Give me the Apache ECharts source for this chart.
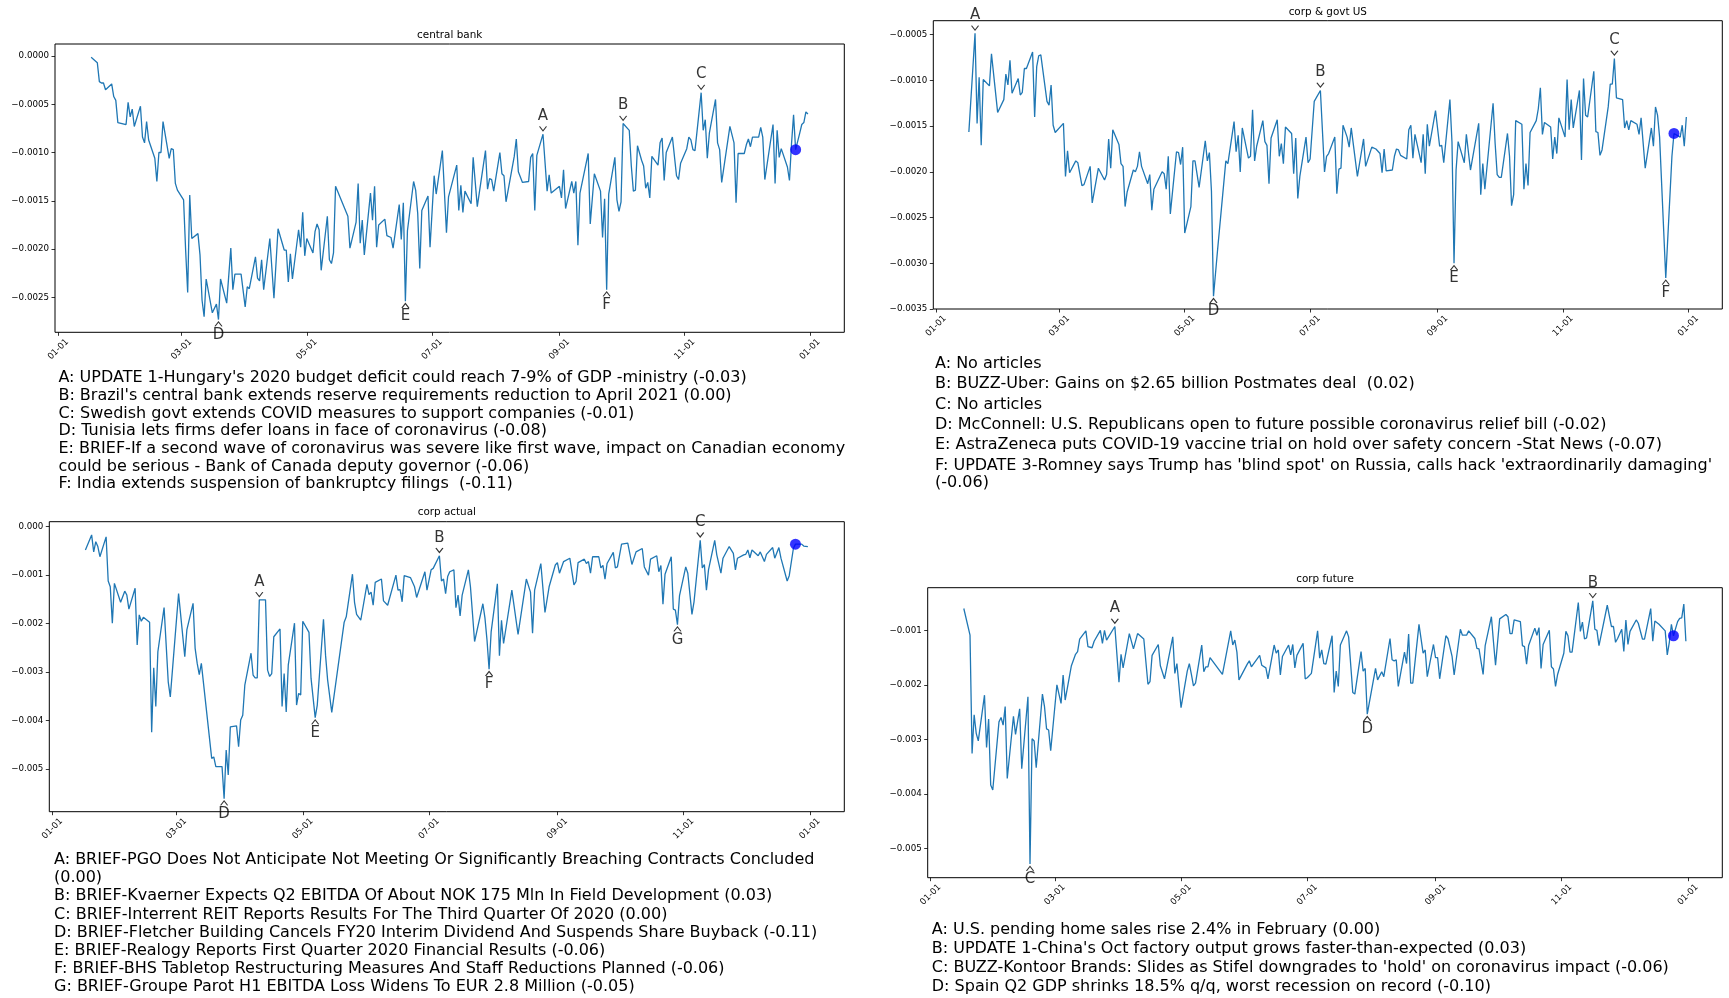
<!DOCTYPE html>
<html>
<head>
<meta charset="utf-8">
<title>Sentiment by sector, 2020</title>
<script src="https://cdn.jsdelivr.net/npm/echarts@6/dist/echarts.min.js"></script>
<style>
  html, body { margin: 0; padding: 0; background: #fff; }
  #chart { width: 1729px; height: 998px; }
</style>
</head>
<body>
<div id="chart"></div>
<script>
// ---- shared x ticks (day of year 2020) ----
const monthTicks = [0, 60, 121, 182, 244, 305, 366];
const monthTickLabels = ['01-01', '03-01', '05-01', '07-01', '09-01', '11-01', '01-01'];

// ---- central bank ----
const cbDays = [16,19,20,21,22,23,26,27,28,29,33,34,35,36,37,40,41,42,43,44,47,48,49,50,51,54,55,56,57,58,61,62,63,64,65,68,69,70,71,72,75,77,78,79,82,84,85,86,89,91,92,93,96,97,98,99,100,103,105,107,110,111,112,113,114,117,118,119,120,121,124,125,126,127,128,131,132,133,134,135,141,142,145,146,147,148,149,152,153,154,155,156,159,160,162,163,166,167,168,169,170,173,174,175,176,177,180,181,183,184,187,189,190,194,195,196,197,198,201,202,204,208,209,210,211,212,215,216,217,218,222,223,224,226,229,230,231,232,233,236,238,239,240,244,245,246,247,250,251,252,253,254,258,259,261,264,265,266,267,268,271,272,273,274,275,278,279,280,281,282,284,285,286,287,288,289,292,293,294,295,296,299,301,302,303,306,307,308,309,310,313,314,315,316,317,320,321,322,323,327,329,330,331,334,335,336,337,338,341,342,343,344,348,349,350,351,352,355,356,357,358,359,361,362,363,364,365];
const cbValues = [-0.000014,-0.000069,-0.000266,-0.00028,-0.00028,-0.00035,-0.00029,-0.00042,-0.00046,-0.00069,-0.00071,-0.00048,-0.00063,-0.00055,-0.00073,-0.00052,-0.00084,-0.0009,-0.00068,-0.00087,-0.00106,-0.0013,-0.001,-0.001,-0.00068,-0.00106,-0.00096,-0.00097,-0.00132,-0.00139,-0.00149,-0.00201,-0.00245,-0.00144,-0.00189,-0.00184,-0.00206,-0.00253,-0.0027,-0.00231,-0.00266,-0.00257,-0.00273,-0.00231,-0.00256,-0.00199,-0.00242,-0.00226,-0.00226,-0.0026,-0.00239,-0.00241,-0.00208,-0.0023,-0.00233,-0.00211,-0.00242,-0.00189,-0.00251,-0.00179,-0.00201,-0.00201,-0.00234,-0.00205,-0.00231,-0.0018,-0.00198,-0.00162,-0.00207,-0.00189,-0.00204,-0.00182,-0.00174,-0.0018,-0.00222,-0.00166,-0.00211,-0.00215,-0.00204,-0.00135,-0.00166,-0.00199,-0.00172,-0.00132,-0.00194,-0.0017,-0.00206,-0.00142,-0.0017,-0.00135,-0.00198,-0.00175,-0.00169,-0.00186,-0.00188,-0.00199,-0.00154,-0.0019,-0.00152,-0.00254,-0.00181,-0.0013,-0.00139,-0.00163,-0.0022,-0.0016,-0.00145,-0.00198,-0.00124,-0.00143,-0.00098,-0.00183,-0.00146,-0.00113,-0.0016,-0.00134,-0.00162,-0.0014,-0.00153,-0.00105,-0.00156,-0.00098,-0.00138,-0.00127,-0.00128,-0.0014,-0.001,-0.00122,-0.00124,-0.00151,-0.00104,-0.00086,-0.0012,-0.00131,-0.0013,-0.00105,-0.00101,-0.0016,-0.00103,-0.00081,-0.0014,-0.00123,-0.00142,-0.00135,-0.00147,-0.00118,-0.00158,-0.0013,-0.00142,-0.0013,-0.00196,-0.00142,-0.00101,-0.00174,-0.00122,-0.0014,-0.00188,-0.00148,-0.00242,-0.00143,-0.00105,-0.00149,-0.00161,-0.00151,-0.0007,-0.00077,-0.00114,-0.0014,-0.00139,-0.00093,-0.00108,-0.00114,-0.00137,-0.00131,-0.00147,-0.00104,-0.00113,-0.0009,-0.00085,-0.00129,-0.001,-0.00084,-0.00124,-0.00128,-0.00111,-0.00096,-0.00084,-0.00087,-0.00097,-0.00098,-0.00038,-0.00077,-0.00066,-0.00106,-0.0008,-0.00045,-0.0009,-0.00097,-0.00131,-0.00073,-0.0009,-0.00152,-0.00101,-0.00101,-0.00092,-0.00086,-0.00094,-0.00084,-0.00084,-0.00074,-0.00084,-0.00128,-0.00071,-0.00132,-0.00077,-0.00105,-0.00096,-0.00115,-0.00129,-0.00091,-0.00061,-0.00097,-0.0008,-0.00071,-0.00069,-0.00058,-0.0006];
const cbYTicks = [-0.0025, -0.002, -0.0015, -0.001, -0.0005, 0];
const cbMarkLetters = ['A', 'B', 'C', 'D', 'E', 'F'];
const cbMarkDays = [236, 275, 313, 78, 169, 267];
const cbMarkSides = ['above', 'above', 'above', 'below', 'below', 'below'];
const cbDotDay = 359;
const cbNotes = [
  "A: UPDATE 1-Hungary's 2020 budget deficit could reach 7-9% of GDP -ministry (-0.03)",
  "B: Brazil's central bank extends reserve requirements reduction to April 2021 (0.00)",
  "C: Swedish govt extends COVID measures to support companies (-0.01)",
  "D: Tunisia lets firms defer loans in face of coronavirus (-0.08)",
  "E: BRIEF-If a second wave of coronavirus was severe like first wave, impact on Canadian economy\ncould be serious - Bank of Canada deputy governor (-0.06)",
  "F: India extends suspension of bankruptcy filings  (-0.11)"
];

// ---- corp & govt US ----
const usDays = [16,19,20,21,22,23,26,27,30,33,34,35,36,37,40,41,42,43,44,47,48,49,50,51,54,55,56,57,58,62,63,64,65,68,69,71,72,75,76,79,82,83,84,85,86,89,90,91,92,93,96,97,98,99,100,103,104,105,106,110,111,112,113,114,117,118,119,120,121,124,125,126,128,131,132,133,134,135,137,141,142,145,146,147,148,149,152,153,154,155,156,159,160,161,162,163,166,167,168,169,170,173,174,175,176,177,180,181,182,184,187,189,190,191,194,195,196,197,198,200,201,202,205,208,209,212,214,216,217,218,219,222,223,224,225,226,229,230,231,232,233,236,237,238,239,240,243,245,246,247,250,251,252,253,254,257,258,260,264,265,266,267,271,272,273,274,275,278,279,280,281,282,285,286,287,288,289,292,293,294,295,296,299,300,301,302,303,306,307,308,309,310,313,314,315,316,317,320,321,322,323,324,327,328,329,330,331,334,335,336,337,338,341,342,343,345,348,349,350,351,352,355,358,359,362,363,364,365];
const usValues = [-0.001564,-0.000485,-0.00147,-0.000967,-0.00171,-0.00099,-0.00106,-0.00071,-0.00135,-0.00121,-0.00093,-0.00105,-0.00078,-0.00114,-0.00098,-0.00116,-0.00113,-0.00087,-0.00087,-0.00069,-0.0014,-0.00085,-0.00073,-0.00072,-0.00123,-0.00127,-0.00105,-0.00149,-0.00157,-0.00147,-0.00205,-0.00177,-0.00201,-0.00188,-0.0019,-0.00215,-0.00214,-0.00194,-0.00234,-0.00196,-0.00209,-0.00203,-0.00164,-0.00196,-0.00154,-0.0017,-0.00191,-0.00194,-0.00238,-0.00222,-0.00198,-0.002,-0.00194,-0.00178,-0.00194,-0.00213,-0.00203,-0.00242,-0.00219,-0.002,-0.00202,-0.00219,-0.00183,-0.00246,-0.00178,-0.00179,-0.00192,-0.00173,-0.00267,-0.00238,-0.00188,-0.00188,-0.00217,-0.00166,-0.00188,-0.00179,-0.00221,-0.00336,-0.00285,-0.00188,-0.00191,-0.00145,-0.00178,-0.0016,-0.002,-0.00152,-0.00185,-0.00183,-0.00132,-0.00188,-0.00172,-0.00144,-0.00167,-0.00171,-0.00213,-0.00163,-0.00143,-0.00183,-0.00169,-0.00191,-0.00151,-0.00158,-0.00202,-0.00163,-0.00229,-0.00205,-0.00162,-0.0019,-0.00186,-0.00123,-0.00111,-0.002,-0.00183,-0.0018,-0.00162,-0.00224,-0.00197,-0.00196,-0.00149,-0.00162,-0.00173,-0.00152,-0.00205,-0.00164,-0.00194,-0.00173,-0.00175,-0.0018,-0.00201,-0.00175,-0.00199,-0.00198,-0.00183,-0.00175,-0.00176,-0.00182,-0.00186,-0.00154,-0.00149,-0.00185,-0.00159,-0.0019,-0.00159,-0.00202,-0.00148,-0.00172,-0.00133,-0.00172,-0.00171,-0.0019,-0.00121,-0.00167,-0.003,-0.00198,-0.00167,-0.0019,-0.00159,-0.00198,-0.00147,-0.00225,-0.00191,-0.00219,-0.00125,-0.00169,-0.00203,-0.00206,-0.00206,-0.00158,-0.00183,-0.00237,-0.00225,-0.00144,-0.00148,-0.00219,-0.00191,-0.00215,-0.00157,-0.00144,-0.00131,-0.00108,-0.00159,-0.00146,-0.00151,-0.00186,-0.00162,-0.0018,-0.00141,-0.00162,-0.00099,-0.00154,-0.00121,-0.00152,-0.00111,-0.00187,-0.00098,-0.00138,-0.0014,-0.0009,-0.00156,-0.00157,-0.00182,-0.00176,-0.00129,-0.00104,-0.00104,-0.00076,-0.00119,-0.00121,-0.00152,-0.00144,-0.00154,-0.00144,-0.00148,-0.00159,-0.00141,-0.00196,-0.00152,-0.00172,-0.00129,-0.00138,-0.00162,-0.00316,-0.00183,-0.00158,-0.00162,-0.00149,-0.00172,-0.0014];
const usYTicks = [-0.0035, -0.003, -0.0025, -0.002, -0.0015, -0.001, -0.0005];
const usMarkLetters = ['A', 'B', 'C', 'D', 'E', 'F'];
const usMarkDays = [19, 187, 330, 135, 252, 355];
const usMarkSides = ['above', 'above', 'above', 'below', 'below', 'below'];
const usDotDay = 359;
const usNotes = [
  "A: No articles",
  "B: BUZZ-Uber: Gains on $2.65 billion Postmates deal  (0.02)",
  "C: No articles",
  "D: McConnell: U.S. Republicans open to future possible coronavirus relief bill (-0.02)",
  "E: AstraZeneca puts COVID-19 vaccine trial on hold over safety concern -Stat News (-0.07)",
  "F: UPDATE 3-Romney says Trump has 'blind spot' on Russia, calls hack 'extraordinarily damaging'\n(-0.06)"
];

// ---- corp actual ----
const caDays = [16,19,20,21,22,23,26,27,28,29,30,33,35,36,37,40,41,42,43,44,47,48,49,50,51,54,56,57,61,64,65,68,69,70,71,72,77,78,79,82,83,84,85,86,89,90,91,92,93,96,97,98,99,100,103,104,105,106,107,110,111,112,113,114,117,118,119,120,121,124,125,127,128,131,132,133,135,141,142,145,146,147,149,152,153,154,155,156,159,160,162,166,167,168,169,170,173,175,176,180,181,183,184,187,188,189,190,191,192,194,195,196,197,198,201,202,204,208,209,210,211,212,215,216,217,218,222,225,229,231,232,233,236,238,240,243,244,245,247,250,252,253,254,257,258,259,260,261,264,265,266,267,268,271,272,273,275,278,280,282,285,286,288,289,292,293,294,295,296,299,300,301,302,303,306,307,309,310,313,314,315,316,317,320,321,323,324,327,329,330,331,334,335,336,337,338,341,342,344,345,348,349,351,352,355,356,358,359,361,362,363,365];
const caValues = [-0.00048,-0.00017,-0.00052,-0.00031,-0.00041,-0.00062,-0.00021,-0.00112,-0.00124,-0.00199,-0.00117,-0.00156,-0.00133,-0.00141,-0.0017,-0.00127,-0.00244,-0.00182,-0.00195,-0.00187,-0.00197,-0.00424,-0.00291,-0.00371,-0.00258,-0.00167,-0.0032,-0.00351,-0.00138,-0.00268,-0.00213,-0.00158,-0.00251,-0.00282,-0.00305,-0.00282,-0.00478,-0.00475,-0.00495,-0.00495,-0.00561,-0.00461,-0.00512,-0.00413,-0.00411,-0.00454,-0.00399,-0.00389,-0.00327,-0.00261,-0.00306,-0.00312,-0.00312,-0.00151,-0.00151,-0.00296,-0.00309,-0.00303,-0.00227,-0.00211,-0.00371,-0.00303,-0.00382,-0.00285,-0.00199,-0.00368,-0.00344,-0.00347,-0.00195,-0.00218,-0.00313,-0.00394,-0.00368,-0.00191,-0.00265,-0.00316,-0.00383,-0.00197,-0.00186,-0.00098,-0.00156,-0.00181,-0.00193,-0.00119,-0.0014,-0.00135,-0.00162,-0.00115,-0.00108,-0.00153,-0.00162,-0.001,-0.00131,-0.0013,-0.00155,-0.00101,-0.00105,-0.00124,-0.00146,-0.00093,-0.00131,-0.00089,-0.00086,-0.0006,-0.00112,-0.00108,-0.00138,-0.00103,-0.00093,-0.00089,-0.00167,-0.00141,-0.00184,-0.00141,-0.00089,-0.00124,-0.00237,-0.00159,-0.00188,-0.00234,-0.00294,-0.00217,-0.00118,-0.00266,-0.00193,-0.00241,-0.00131,-0.00222,-0.00108,-0.00135,-0.0022,-0.00131,-0.00076,-0.00177,-0.00124,-0.00079,-0.00074,-0.00096,-0.00072,-0.00065,-0.0012,-0.00113,-0.00074,-0.00067,-0.00076,-0.00072,-0.00096,-0.00062,-0.00062,-0.00085,-0.0008,-0.00108,-0.00076,-0.00053,-0.00085,-0.00083,-0.00036,-0.00034,-0.00078,-0.00052,-0.00045,-0.00083,-0.001,-0.00067,-0.0006,-0.00093,-0.0008,-0.0016,-0.00098,-0.00062,-0.0017,-0.00172,-0.00202,-0.00142,-0.00083,-0.00096,-0.00181,-0.00155,-0.00028,-0.00085,-0.00078,-0.00131,-0.00089,-0.00028,-0.00058,-0.00096,-0.00065,-0.00041,-0.00055,-0.00089,-0.00065,-0.00058,-0.00057,-0.00048,-0.00064,-0.00048,-0.0006,-0.00052,-0.00072,-0.00057,-0.00043,-0.00065,-0.00043,-0.00065,-0.00112,-0.00101,-0.00045,-0.00036,-0.00036,-0.00036,-0.0004,-0.00041];
const caYTicks = [-0.005, -0.004, -0.003, -0.002, -0.001, 0];
const caMarkLetters = ['A', 'B', 'C', 'D', 'E', 'F', 'G'];
const caMarkDays = [100, 187, 313, 83, 127, 211, 302];
const caMarkSides = ['above', 'above', 'above', 'below', 'below', 'below', 'below'];
const caDotDay = 359;
const caNotes = [
  "A: BRIEF-PGO Does Not Anticipate Not Meeting Or Significantly Breaching Contracts Concluded\n(0.00)",
  "B: BRIEF-Kvaerner Expects Q2 EBITDA Of About NOK 175 Mln In Field Development (0.03)",
  "C: BRIEF-Interrent REIT Reports Results For The Third Quarter Of 2020 (0.00)",
  "D: BRIEF-Fletcher Building Cancels FY20 Interim Dividend And Suspends Share Buyback (-0.11)",
  "E: BRIEF-Realogy Reports First Quarter 2020 Financial Results (-0.06)",
  "F: BRIEF-BHS Tabletop Restructuring Measures And Staff Reductions Planned (-0.06)",
  "G: BRIEF-Groupe Parot H1 EBITDA Loss Widens To EUR 2.8 Million (-0.05)"
];

// ---- corp future ----
const cfDays = [16,19,20,21,22,23,26,27,28,29,30,33,34,35,36,37,40,41,43,44,47,48,49,50,51,54,55,56,57,58,61,63,64,65,68,70,71,72,75,76,78,79,82,83,84,85,89,91,92,93,96,98,100,103,105,106,107,110,111,113,117,118,119,121,124,125,126,127,128,131,132,133,134,135,141,145,146,147,148,149,153,154,155,159,160,162,163,166,167,168,169,170,173,174,175,176,177,180,181,182,184,187,188,189,190,191,194,195,196,197,198,201,202,204,205,208,209,210,211,215,216,218,219,222,223,224,225,226,229,230,231,232,233,236,238,239,240,243,244,245,246,249,250,252,253,256,257,259,260,263,264,265,267,268,271,272,273,275,278,279,280,281,282,285,286,287,288,289,292,293,294,295,296,299,300,301,302,303,306,307,308,309,310,313,314,315,316,317,320,321,322,323,327,329,330,331,332,334,335,336,337,338,341,342,344,345,348,349,350,352,355,356,357,358,359,361,362,363,364,365];
const cfValues = [-0.0006,-0.00109,-0.00326,-0.00255,-0.00289,-0.00303,-0.00219,-0.00315,-0.00263,-0.00384,-0.00393,-0.00268,-0.0026,-0.00274,-0.0024,-0.00372,-0.00258,-0.00291,-0.00244,-0.00354,-0.00222,-0.00529,-0.00299,-0.00303,-0.00352,-0.00217,-0.0024,-0.00281,-0.00283,-0.00321,-0.002,-0.00234,-0.00182,-0.00228,-0.00165,-0.00144,-0.00139,-0.00116,-0.00101,-0.0013,-0.00132,-0.0012,-0.001,-0.00124,-0.001,-0.00118,-0.00093,-0.00195,-0.00144,-0.00169,-0.00106,-0.00134,-0.00106,-0.00116,-0.00199,-0.00194,-0.00146,-0.00126,-0.00165,-0.00189,-0.00112,-0.00179,-0.00161,-0.00242,-0.00175,-0.00161,-0.00181,-0.00202,-0.00197,-0.00127,-0.00176,-0.00167,-0.00167,-0.0015,-0.00181,-0.00101,-0.00127,-0.00118,-0.0014,-0.00191,-0.00162,-0.00156,-0.00167,-0.00146,-0.00164,-0.00169,-0.00189,-0.00127,-0.00142,-0.00136,-0.00182,-0.00148,-0.00127,-0.00145,-0.00126,-0.00169,-0.00146,-0.00124,-0.00189,-0.00187,-0.00179,-0.00101,-0.00151,-0.00136,-0.00161,-0.00162,-0.0011,-0.00214,-0.00175,-0.00203,-0.00127,-0.00101,-0.00112,-0.00214,-0.00217,-0.00139,-0.00175,-0.0017,-0.00254,-0.0017,-0.00191,-0.00176,-0.00185,-0.00115,-0.00154,-0.00156,-0.00154,-0.00203,-0.0014,-0.00161,-0.00107,-0.00197,-0.00197,-0.00089,-0.00142,-0.00136,-0.00185,-0.00126,-0.0015,-0.0015,-0.00189,-0.0011,-0.00115,-0.00148,-0.00182,-0.00098,-0.00109,-0.00109,-0.00101,-0.00115,-0.00133,-0.00134,-0.00181,-0.00128,-0.00075,-0.00121,-0.00164,-0.00079,-0.00071,-0.00075,-0.00106,-0.00106,-0.00081,-0.00084,-0.00128,-0.0013,-0.00162,-0.00128,-0.00096,-0.00109,-0.00095,-0.0017,-0.00126,-0.001,-0.00167,-0.00171,-0.00203,-0.00181,-0.00142,-0.00102,-0.0011,-0.0014,-0.0014,-0.00049,-0.00102,-0.00085,-0.00116,-0.00114,-0.00046,-0.00098,-0.001,-0.00128,-0.00054,-0.00093,-0.00093,-0.00122,-0.00115,-0.00098,-0.00139,-0.00081,-0.00126,-0.00102,-0.00081,-0.00087,-0.00116,-0.00116,-0.0006,-0.0012,-0.00083,-0.00089,-0.00101,-0.00145,-0.00122,-0.00089,-0.0011,-0.00084,-0.00078,-0.00077,-0.00052,-0.0012];
const cfYTicks = [-0.005, -0.004, -0.003, -0.002, -0.001];
const cfMarkLetters = ['A', 'B', 'C', 'D'];
const cfMarkDays = [89, 320, 48, 211];
const cfMarkSides = ['above', 'above', 'below', 'below'];
const cfDotDay = 359;
const cfNotes = [
  "A: U.S. pending home sales rise 2.4% in February (0.00)",
  "B: UPDATE 1-China's Oct factory output grows faster-than-expected (0.03)",
  "C: BUZZ-Kontoor Brands: Slides as Stifel downgrades to 'hold' on coronavirus impact (-0.06)",
  "D: Spain Q2 GDP shrinks 18.5% q/q, worst recession on record (-0.10)"
];

// ---- layout & styling ----
const FONT = '"DejaVu Sans", "Liberation Sans", sans-serif';
const LINE_COLOR = '#1f77b4';
const CHEVRON_DOWN = 'path://M0,0L5,6L10,0';
const CHEVRON_UP = 'path://M0,6L5,0L10,6';
const NOTE_SIZE = 16;

const panels = [
  { title: 'central bank', days: cbDays, values: cbValues, yTicks: cbYTicks, decimals: 4,
    letters: cbMarkLetters, markDays: cbMarkDays, sides: cbMarkSides, dotDay: cbDotDay, notes: cbNotes,
    grid: { left: 55, top: 44, width: 789.3, height: 288.3 }, xMin: -1.6, xMax: 382.7, yMin: -0.002862, yMax: 0.000124,
    titleY: 35, noteX: 58.4, noteTop: 369.4, noteGap: 17.65, wrapLH: 17.65 },
  { title: 'corp & govt US', days: usDays, values: usValues, yTicks: usYTicks, decimals: 4,
    letters: usMarkLetters, markDays: usMarkDays, sides: usMarkSides, dotDay: usDotDay, notes: usNotes,
    grid: { left: 933.3, top: 20.7, width: 789, height: 288.3 }, xMin: -1.3, xMax: 382.5, yMin: -0.0035, yMax: -0.000347,
    titleY: 12, noteX: 935, noteTop: 355.1, noteGap: 20.3, wrapLH: 17.6 },
  { title: 'corp actual', days: caDays, values: caValues, yTicks: caYTicks, decimals: 3,
    letters: caMarkLetters, markDays: caMarkDays, sides: caMarkSides, dotDay: caDotDay, notes: caNotes,
    grid: { left: 49.3, top: 521.7, width: 795, height: 290 }, xMin: -1.45, xMax: 382.6, yMin: -0.00588, yMax: 0.000103,
    titleY: 512.3, noteX: 54, noteTop: 851, noteGap: 18.1, wrapLH: 18.1 },
  { title: 'corp future', days: cfDays, values: cfValues, yTicks: cfYTicks, decimals: 3,
    letters: cfMarkLetters, markDays: cfMarkDays, sides: cfMarkSides, dotDay: cfDotDay, notes: cfNotes,
    grid: { left: 927.7, top: 587.7, width: 794.6, height: 290 }, xMin: -1.45, xMax: 382.6, yMin: -0.00554, yMax: -0.000218,
    titleY: 579, noteX: 931.8, noteTop: 920.8, noteGap: 19.1, wrapLH: 17.6 }
];

function valueOn(p, day) {
  return p.values[p.days.indexOf(day)];
}
function tickText(v, decimals) {
  const s = Math.abs(v) < 1e-12 ? (0).toFixed(decimals) : v.toFixed(decimals);
  return s.replace('-', '\u2212');
}

const grids = [], xAxes = [], yAxes = [], series = [], graphics = [];

panels.forEach((p, i) => {
  grids.push(Object.assign({ show: true, borderColor: '#000', borderWidth: 1, backgroundColor: 'transparent', containLabel: false }, p.grid));

  xAxes.push({
    type: 'value', gridIndex: i, position: 'bottom', min: p.xMin, max: p.xMax,
    splitLine: { show: false }, axisLine: { show: false, onZero: false },
    axisTick: { show: true, customValues: monthTicks, length: 3.5, lineStyle: { color: '#000', width: 0.8 } },
    axisLabel: {
      customValues: monthTicks, rotate: 45, align: 'center', verticalAlign: 'middle', margin: 17,
      fontSize: 8.7, fontFamily: FONT, color: '#000',
      formatter: v => monthTickLabels[monthTicks.indexOf(v)]
    }
  });

  yAxes.push({
    type: 'value', gridIndex: i, position: 'left', min: p.yMin, max: p.yMax,
    splitLine: { show: false }, axisLine: { show: false, onZero: false },
    axisTick: { show: true, customValues: p.yTicks, length: 3.5, lineStyle: { color: '#000', width: 0.8 } },
    axisLabel: {
      customValues: p.yTicks, margin: 6, fontSize: 8.7, fontFamily: FONT, color: '#000',
      formatter: v => tickText(v, p.decimals)
    }
  });

  series.push({
    type: 'line', xAxisIndex: i, yAxisIndex: i,
    data: p.days.map((d, k) => [d, p.values[k]]),
    showSymbol: false, symbol: 'none',
    lineStyle: { color: LINE_COLOR, width: 1.3 },
    silent: true, z: 2
  });

  series.push({
    type: 'scatter', xAxisIndex: i, yAxisIndex: i,
    data: [[p.dotDay, valueOn(p, p.dotDay)]],
    symbol: 'circle', symbolSize: 11,
    itemStyle: { color: '#0000ff' }, silent: true, z: 4
  });

  series.push({
    type: 'scatter', xAxisIndex: i, yAxisIndex: i,
    data: p.letters.map((letter, k) => {
      const day = p.markDays[k];
      const above = p.sides[k] === 'above';
      return {
        name: letter,
        value: [day, valueOn(p, day)],
        symbol: above ? CHEVRON_DOWN : CHEVRON_UP,
        symbolOffset: [0, above ? -5.5 : 4.5],
        label: { position: above ? 'top' : 'bottom', distance: above ? 2.5 : 0.5 }
      };
    }),
    symbolSize: [7, 4.5],
    itemStyle: { color: 'rgba(0,0,0,0)', borderColor: '#000', borderWidth: 1 },
    label: { show: true, formatter: '{b}', fontSize: 15, fontFamily: FONT, color: '#000' },
    silent: true, z: 5
  });

  graphics.push({
    type: 'text', x: p.grid.left + p.grid.width / 2, y: p.titleY, silent: true,
    style: { text: p.title, fontSize: 10.4, fontFamily: FONT, fill: '#000', align: 'center', verticalAlign: 'middle' }
  });

  let y = p.noteTop;
  p.notes.forEach(note => {
    graphics.push({
      type: 'text', x: p.noteX, y: y, silent: true,
      style: { text: note, fontSize: NOTE_SIZE, fontFamily: FONT, fill: '#000', lineHeight: p.wrapLH, align: 'left', verticalAlign: 'top' }
    });
    y += p.noteGap + (note.split('\n').length - 1) * p.wrapLH;
  });
});

const chart = echarts.init(document.getElementById('chart'), null, { renderer: 'canvas' });
chart.setOption({
  animation: false,
  backgroundColor: '#ffffff',
  grid: grids,
  xAxis: xAxes,
  yAxis: yAxes,
  series: series,
  graphic: graphics
});
</script>
</body>
</html>
